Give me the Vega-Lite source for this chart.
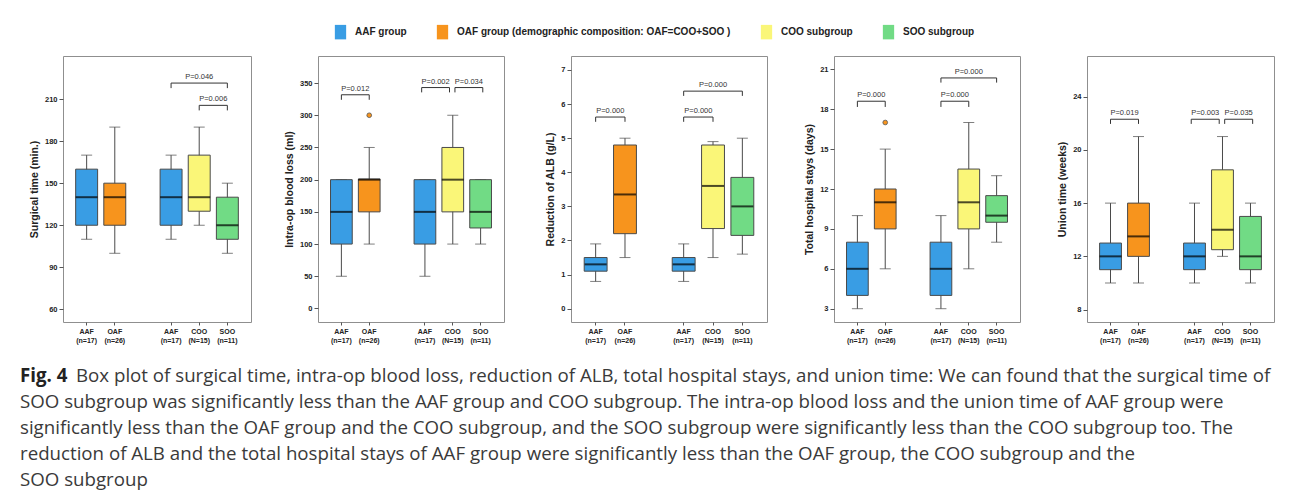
{
"$schema":"https://vega.github.io/schema/vega-lite/v6.json",
"background":"white",
"padding":{"left":20,"top":24,"right":5,"bottom":0},
"datasets":{
"boxes":[
{"panel":"st","cat":"AAF","group":"AAF group","min":110,"q1":120,"median":140,"q3":160,"max":170,"outlier":null},
{"panel":"st","cat":"OAF","group":"OAF group (demographic composition: OAF=COO+SOO )","min":100,"q1":120,"median":140,"q3":150,"max":190,"outlier":null},
{"panel":"st","cat":"AAF2","group":"AAF group","min":110,"q1":120,"median":140,"q3":160,"max":170,"outlier":null},
{"panel":"st","cat":"COO","group":"COO subgroup","min":120,"q1":130,"median":140,"q3":170,"max":190,"outlier":null},
{"panel":"st","cat":"SOO","group":"SOO subgroup","min":100,"q1":110,"median":120,"q3":140,"max":150,"outlier":null},
{"panel":"bl","cat":"AAF","group":"AAF group","min":50,"q1":100,"median":150,"q3":200,"max":200,"outlier":null},
{"panel":"bl","cat":"OAF","group":"OAF group (demographic composition: OAF=COO+SOO )","min":100,"q1":150,"median":200,"q3":201,"max":250,"outlier":300},
{"panel":"bl","cat":"AAF2","group":"AAF group","min":50,"q1":100,"median":150,"q3":200,"max":200,"outlier":null},
{"panel":"bl","cat":"COO","group":"COO subgroup","min":100,"q1":150,"median":200,"q3":250,"max":300,"outlier":null},
{"panel":"bl","cat":"SOO","group":"SOO subgroup","min":100,"q1":125,"median":150,"q3":200,"max":200,"outlier":null},
{"panel":"alb","cat":"AAF","group":"AAF group","min":0.8,"q1":1.1,"median":1.3,"q3":1.5,"max":1.9,"outlier":null},
{"panel":"alb","cat":"OAF","group":"OAF group (demographic composition: OAF=COO+SOO )","min":1.5,"q1":2.2,"median":3.35,"q3":4.8,"max":5.0,"outlier":null},
{"panel":"alb","cat":"AAF2","group":"AAF group","min":0.8,"q1":1.1,"median":1.3,"q3":1.5,"max":1.9,"outlier":null},
{"panel":"alb","cat":"COO","group":"COO subgroup","min":1.5,"q1":2.35,"median":3.6,"q3":4.8,"max":4.9,"outlier":null},
{"panel":"alb","cat":"SOO","group":"SOO subgroup","min":1.6,"q1":2.15,"median":3.0,"q3":3.85,"max":5.0,"outlier":null},
{"panel":"hs","cat":"AAF","group":"AAF group","min":3,"q1":4,"median":6,"q3":8,"max":10,"outlier":null},
{"panel":"hs","cat":"OAF","group":"OAF group (demographic composition: OAF=COO+SOO )","min":6,"q1":9,"median":11,"q3":12,"max":15,"outlier":17},
{"panel":"hs","cat":"AAF2","group":"AAF group","min":3,"q1":4,"median":6,"q3":8,"max":10,"outlier":null},
{"panel":"hs","cat":"COO","group":"COO subgroup","min":6,"q1":9,"median":11,"q3":13.5,"max":17,"outlier":null},
{"panel":"hs","cat":"SOO","group":"SOO subgroup","min":8,"q1":9.5,"median":10,"q3":11.5,"max":13,"outlier":null},
{"panel":"ut","cat":"AAF","group":"AAF group","min":10,"q1":11,"median":12,"q3":13,"max":16,"outlier":null},
{"panel":"ut","cat":"OAF","group":"OAF group (demographic composition: OAF=COO+SOO )","min":10,"q1":12,"median":13.5,"q3":16,"max":21,"outlier":null},
{"panel":"ut","cat":"AAF2","group":"AAF group","min":10,"q1":11,"median":12,"q3":13,"max":16,"outlier":null},
{"panel":"ut","cat":"COO","group":"COO subgroup","min":12,"q1":12.5,"median":14,"q3":18.5,"max":21,"outlier":null},
{"panel":"ut","cat":"SOO","group":"SOO subgroup","min":10,"q1":11,"median":12,"q3":15,"max":16,"outlier":null}
],
"brackets":[
{"panel":"st","g1":"AAF2","g2":"SOO","span":2,"side":"N","y":221.4,"leg":217.8,"label":"P=0.046"},
{"panel":"st","g1":"COO","g2":"SOO","span":1,"side":"N","y":205.5,"leg":201.9,"label":"P=0.006"},
{"panel":"bl","g1":"AAF","g2":"OAF","span":1,"side":"N","y":331.8,"leg":324,"label":"P=0.012"},
{"panel":"bl","g1":"AAF2","g2":"COO","span":1,"side":"L","y":343,"leg":335.5,"label":"P=0.002"},
{"panel":"bl","g1":"COO","g2":"SOO","span":1,"side":"R","y":343,"leg":335.5,"label":"P=0.034"},
{"panel":"alb","g1":"AAF","g2":"OAF","span":1,"side":"N","y":5.62,"leg":5.48,"label":"P=0.000"},
{"panel":"alb","g1":"AAF2","g2":"COO","span":1,"side":"N","y":5.62,"leg":5.48,"label":"P=0.000"},
{"panel":"alb","g1":"AAF2","g2":"SOO","span":2,"side":"N","y":6.38,"leg":6.24,"label":"P=0.000"},
{"panel":"hs","g1":"AAF","g2":"OAF","span":1,"side":"N","y":18.6,"leg":18.17,"label":"P=0.000"},
{"panel":"hs","g1":"AAF2","g2":"COO","span":1,"side":"N","y":18.6,"leg":18.17,"label":"P=0.000"},
{"panel":"hs","g1":"AAF2","g2":"SOO","span":2,"side":"N","y":20.35,"leg":20.0,"label":"P=0.000"},
{"panel":"ut","g1":"AAF","g2":"OAF","span":1,"side":"N","y":22.3,"leg":21.95,"label":"P=0.019"},
{"panel":"ut","g1":"AAF2","g2":"COO","span":1,"side":"L","y":22.3,"leg":21.95,"label":"P=0.003"},
{"panel":"ut","g1":"COO","g2":"SOO","span":1,"side":"R","y":22.3,"leg":21.95,"label":"P=0.035"}
],
"caption":[
{"line":1,"part":"fig","text":"Fig. 4"},
{"line":1,"part":"body","text":"Box plot of surgical time, intra-op blood loss, reduction of ALB, total hospital stays, and union time: We can found that the surgical time of"},
{"line":2,"part":"body","text":"SOO subgroup was significantly less than the AAF group and COO subgroup. The intra-op blood loss and the union time of AAF group were"},
{"line":3,"part":"body","text":"significantly less than the OAF group and the COO subgroup, and the SOO subgroup were significantly less than the COO subgroup too. The"},
{"line":4,"part":"body","text":"reduction of ALB and the total hospital stays of AAF group were significantly less than the OAF group, the COO subgroup and the"},
{"line":5,"part":"body","text":"SOO subgroup"}
]
},
"vconcat":[
{
"hconcat":[
{"width":188,"height":266,
"encoding":{"x":{"field":"cat","type":"nominal","title":null,"scale":{"domain":["AAF","OAF","gap","AAF2","COO","SOO"],"paddingInner":0.22,"paddingOuter":0.45},"axis":{"values":["AAF","OAF","AAF2","COO","SOO"],"labelExpr":"datum.value=='AAF'?['AAF','(n=17)']:datum.value=='OAF'?['OAF','(n=26)']:datum.value=='AAF2'?['AAF','(n=17)']:datum.value=='COO'?['COO','(N=15)']:['SOO','(n=11)']"}}},
"layer":[
{"data":{"name":"boxes"},"transform":[{"filter":"datum.panel=='st'"}],"mark":{"type":"rule","color":"#4a4a4a"},"encoding":{"y":{"field":"min","type":"quantitative","title":"Surgical time (min.)","scale":{"domain":[51,240.7],"nice":false,"zero":false},"axis":{"values":[60,90,120,150,180,210],"tickCount":12,"format":"d","labelOverlap":false}},"y2":{"field":"max"}}},
{"data":{"name":"boxes"},"transform":[{"filter":"datum.panel=='st'"}],"mark":{"type":"tick","color":"#4a4a4a","size":11,"thickness":1},"encoding":{"y":{"field":"min","type":"quantitative","title":"Surgical time (min.)"}}},
{"data":{"name":"boxes"},"transform":[{"filter":"datum.panel=='st'"}],"mark":{"type":"tick","color":"#4a4a4a","size":11,"thickness":1},"encoding":{"y":{"field":"max","type":"quantitative","title":"Surgical time (min.)"}}},
{"data":{"name":"boxes"},"transform":[{"filter":"datum.panel=='st'"}],"mark":{"type":"bar","stroke":"#4a4a4a","strokeWidth":1},"encoding":{"y":{"field":"q1","type":"quantitative","title":"Surgical time (min.)"},"y2":{"field":"q3"},"color":{"field":"group","type":"nominal","title":null,"scale":{"domain":["AAF group","OAF group (demographic composition: OAF=COO+SOO )","COO subgroup","SOO subgroup"],"range":["#399de4","#f7941d","#faf678","#71db85"]},"legend":{"orient":"none","legendX":270,"legendY":-31.5,"direction":"horizontal","columnPadding":28,"labelFontSize":10,"labelFontWeight":"bold","labelLimit":400,"labelColor":"#222222","symbolType":"M-0.78,-1L0.78,-1L0.78,1L-0.78,1Z","symbolSize":210,"symbolStrokeWidth":0,"labelOffset":7}}}},
{"data":{"name":"boxes"},"transform":[{"filter":"datum.panel=='st'"}],"mark":{"type":"tick","color":"#000000","size":22,"thickness":2},"encoding":{"y":{"field":"median","type":"quantitative","title":"Surgical time (min.)"}}},
{"data":{"name":"brackets"},"transform":[{"filter":"datum.panel=='st'"}],"mark":{"type":"rule","color":"#333333"},"encoding":{"x":{"field":"g1","type":"nominal","title":null,"bandPosition":0.5},"x2":{"field":"g2","bandPosition":0.5},"y":{"field":"y","type":"quantitative","title":"Surgical time (min.)"}}},
{"data":{"name":"brackets"},"transform":[{"filter":"datum.panel=='st'"}],"mark":{"type":"rule","color":"#333333"},"encoding":{"x":{"field":"g1","type":"nominal","title":null,"bandPosition":0.5},"y":{"field":"leg","type":"quantitative","title":"Surgical time (min.)"},"y2":{"field":"y"}}},
{"data":{"name":"brackets"},"transform":[{"filter":"datum.panel=='st'"}],"mark":{"type":"rule","color":"#333333"},"encoding":{"x":{"field":"g2","type":"nominal","title":null,"bandPosition":0.5},"y":{"field":"leg","type":"quantitative","title":"Surgical time (min.)"},"y2":{"field":"y"}}},
{"data":{"name":"brackets"},"transform":[{"filter":"datum.panel=='st' && datum.span==1"}],"mark":{"type":"text","fontSize":7.5,"color":"#333333","baseline":"bottom","dy":-2},"encoding":{"x":{"field":"g1","type":"nominal","title":null,"bandPosition":1.141},"y":{"field":"y","type":"quantitative","title":"Surgical time (min.)"},"text":{"field":"label"}}},
{"data":{"name":"brackets"},"transform":[{"filter":"datum.panel=='st' && datum.span==2"}],"mark":{"type":"text","fontSize":7.5,"color":"#333333","baseline":"bottom","dy":-2},"encoding":{"x":{"field":"g1","type":"nominal","title":null,"bandPosition":1.782},"y":{"field":"y","type":"quantitative","title":"Surgical time (min.)"},"text":{"field":"label"}}}
]},
{"width":186,"height":266,
"encoding":{"x":{"field":"cat","type":"nominal","title":null,"scale":{"domain":["AAF","OAF","gap","AAF2","COO","SOO"],"paddingInner":0.22,"paddingOuter":0.45},"axis":{"values":["AAF","OAF","AAF2","COO","SOO"],"labelExpr":"datum.value=='AAF'?['AAF','(n=17)']:datum.value=='OAF'?['OAF','(n=26)']:datum.value=='AAF2'?['AAF','(n=17)']:datum.value=='COO'?['COO','(N=15)']:['SOO','(n=11)']"}}},
"layer":[
{"data":{"name":"boxes"},"transform":[{"filter":"datum.panel=='bl'"}],"mark":{"type":"rule","color":"#4a4a4a"},"encoding":{"y":{"field":"min","type":"quantitative","title":"Intra-op blood loss (ml)","scale":{"domain":[-21,392],"nice":false,"zero":false},"axis":{"values":[0,50,100,150,200,250,300,350],"tickCount":12,"format":"d","labelOverlap":false}},"y2":{"field":"max"}}},
{"data":{"name":"boxes"},"transform":[{"filter":"datum.panel=='bl'"}],"mark":{"type":"tick","color":"#4a4a4a","size":11,"thickness":1},"encoding":{"y":{"field":"min","type":"quantitative","title":"Intra-op blood loss (ml)"}}},
{"data":{"name":"boxes"},"transform":[{"filter":"datum.panel=='bl'"}],"mark":{"type":"tick","color":"#4a4a4a","size":11,"thickness":1},"encoding":{"y":{"field":"max","type":"quantitative","title":"Intra-op blood loss (ml)"}}},
{"data":{"name":"boxes"},"transform":[{"filter":"datum.panel=='bl'"}],"mark":{"type":"bar","stroke":"#4a4a4a","strokeWidth":1},"encoding":{"y":{"field":"q1","type":"quantitative","title":"Intra-op blood loss (ml)"},"y2":{"field":"q3"},"color":{"field":"group","type":"nominal","title":null,"scale":{"domain":["AAF group","OAF group (demographic composition: OAF=COO+SOO )","COO subgroup","SOO subgroup"],"range":["#399de4","#f7941d","#faf678","#71db85"]},"legend":{"orient":"none","legendX":270,"legendY":-31.5,"direction":"horizontal","columnPadding":28,"labelFontSize":10,"labelFontWeight":"bold","labelLimit":400,"labelColor":"#222222","symbolType":"M-0.78,-1L0.78,-1L0.78,1L-0.78,1Z","symbolSize":210,"symbolStrokeWidth":0,"labelOffset":7}}}},
{"data":{"name":"boxes"},"transform":[{"filter":"datum.panel=='bl'"}],"mark":{"type":"tick","color":"#000000","size":22,"thickness":2},"encoding":{"y":{"field":"median","type":"quantitative","title":"Intra-op blood loss (ml)"}}},
{"data":{"name":"boxes"},"transform":[{"filter":"datum.panel=='bl' && isValid(datum.outlier)"}],"mark":{"type":"point","filled":true,"fill":"#f7941d","stroke":"#555555","strokeWidth":0.8,"size":22,"opacity":1},"encoding":{"y":{"field":"outlier","type":"quantitative","title":"Intra-op blood loss (ml)"}}},
{"data":{"name":"brackets"},"transform":[{"filter":"datum.panel=='bl' && datum.side=='N'"}],"mark":{"type":"rule","color":"#333333"},"encoding":{"x":{"field":"g1","type":"nominal","title":null,"bandPosition":0.5},"x2":{"field":"g2","bandPosition":0.5},"y":{"field":"y","type":"quantitative","title":"Intra-op blood loss (ml)"}}},
{"data":{"name":"brackets"},"transform":[{"filter":"datum.panel=='bl' && datum.side=='N'"}],"mark":{"type":"rule","color":"#333333"},"encoding":{"x":{"field":"g1","type":"nominal","title":null,"bandPosition":0.5},"y":{"field":"leg","type":"quantitative","title":"Intra-op blood loss (ml)"},"y2":{"field":"y"}}},
{"data":{"name":"brackets"},"transform":[{"filter":"datum.panel=='bl' && datum.side=='N'"}],"mark":{"type":"rule","color":"#333333"},"encoding":{"x":{"field":"g2","type":"nominal","title":null,"bandPosition":0.5},"y":{"field":"leg","type":"quantitative","title":"Intra-op blood loss (ml)"},"y2":{"field":"y"}}},
{"data":{"name":"brackets"},"transform":[{"filter":"datum.panel=='bl' && datum.side=='N'"}],"mark":{"type":"text","fontSize":7.5,"color":"#333333","baseline":"bottom","dy":-2},"encoding":{"x":{"field":"g1","type":"nominal","title":null,"bandPosition":1.141},"y":{"field":"y","type":"quantitative","title":"Intra-op blood loss (ml)"},"text":{"field":"label"}}},
{"data":{"name":"brackets"},"transform":[{"filter":"datum.panel=='bl' && datum.side=='L'"}],"mark":{"type":"rule","color":"#333333"},"encoding":{"x":{"field":"g1","type":"nominal","title":null,"bandPosition":0.35},"x2":{"field":"g2","bandPosition":0.35},"y":{"field":"y","type":"quantitative","title":"Intra-op blood loss (ml)"}}},
{"data":{"name":"brackets"},"transform":[{"filter":"datum.panel=='bl' && datum.side=='L'"}],"mark":{"type":"rule","color":"#333333"},"encoding":{"x":{"field":"g1","type":"nominal","title":null,"bandPosition":0.35},"y":{"field":"leg","type":"quantitative","title":"Intra-op blood loss (ml)"},"y2":{"field":"y"}}},
{"data":{"name":"brackets"},"transform":[{"filter":"datum.panel=='bl' && datum.side=='L'"}],"mark":{"type":"rule","color":"#333333"},"encoding":{"x":{"field":"g2","type":"nominal","title":null,"bandPosition":0.35},"y":{"field":"leg","type":"quantitative","title":"Intra-op blood loss (ml)"},"y2":{"field":"y"}}},
{"data":{"name":"brackets"},"transform":[{"filter":"datum.panel=='bl' && datum.side=='L'"}],"mark":{"type":"text","fontSize":7.5,"color":"#333333","baseline":"bottom","dy":-2},"encoding":{"x":{"field":"g1","type":"nominal","title":null,"bandPosition":0.991},"y":{"field":"y","type":"quantitative","title":"Intra-op blood loss (ml)"},"text":{"field":"label"}}},
{"data":{"name":"brackets"},"transform":[{"filter":"datum.panel=='bl' && datum.side=='R'"}],"mark":{"type":"rule","color":"#333333"},"encoding":{"x":{"field":"g1","type":"nominal","title":null,"bandPosition":0.6},"x2":{"field":"g2","bandPosition":0.6},"y":{"field":"y","type":"quantitative","title":"Intra-op blood loss (ml)"}}},
{"data":{"name":"brackets"},"transform":[{"filter":"datum.panel=='bl' && datum.side=='R'"}],"mark":{"type":"rule","color":"#333333"},"encoding":{"x":{"field":"g1","type":"nominal","title":null,"bandPosition":0.6},"y":{"field":"leg","type":"quantitative","title":"Intra-op blood loss (ml)"},"y2":{"field":"y"}}},
{"data":{"name":"brackets"},"transform":[{"filter":"datum.panel=='bl' && datum.side=='R'"}],"mark":{"type":"rule","color":"#333333"},"encoding":{"x":{"field":"g2","type":"nominal","title":null,"bandPosition":0.6},"y":{"field":"leg","type":"quantitative","title":"Intra-op blood loss (ml)"},"y2":{"field":"y"}}},
{"data":{"name":"brackets"},"transform":[{"filter":"datum.panel=='bl' && datum.side=='R'"}],"mark":{"type":"text","fontSize":7.5,"color":"#333333","baseline":"bottom","dy":-2},"encoding":{"x":{"field":"g1","type":"nominal","title":null,"bandPosition":1.241},"y":{"field":"y","type":"quantitative","title":"Intra-op blood loss (ml)"},"text":{"field":"label"}}}
]},
{"width":196,"height":266,
"encoding":{"x":{"field":"cat","type":"nominal","title":null,"scale":{"domain":["AAF","OAF","gap","AAF2","COO","SOO"],"paddingInner":0.22,"paddingOuter":0.45},"axis":{"values":["AAF","OAF","AAF2","COO","SOO"],"labelExpr":"datum.value=='AAF'?['AAF','(n=17)']:datum.value=='OAF'?['OAF','(n=26)']:datum.value=='AAF2'?['AAF','(n=17)']:datum.value=='COO'?['COO','(N=15)']:['SOO','(n=11)']"}}},
"layer":[
{"data":{"name":"boxes"},"transform":[{"filter":"datum.panel=='alb'"}],"mark":{"type":"rule","color":"#4a4a4a"},"encoding":{"y":{"field":"min","type":"quantitative","title":"Reduction of ALB (g/L)","scale":{"domain":[-0.39,7.41],"nice":false,"zero":false},"axis":{"values":[0,1,2,3,4,5,6,7],"tickCount":12,"format":"d","labelOverlap":false}},"y2":{"field":"max"}}},
{"data":{"name":"boxes"},"transform":[{"filter":"datum.panel=='alb'"}],"mark":{"type":"tick","color":"#4a4a4a","size":11,"thickness":1},"encoding":{"y":{"field":"min","type":"quantitative","title":"Reduction of ALB (g/L)"}}},
{"data":{"name":"boxes"},"transform":[{"filter":"datum.panel=='alb'"}],"mark":{"type":"tick","color":"#4a4a4a","size":11,"thickness":1},"encoding":{"y":{"field":"max","type":"quantitative","title":"Reduction of ALB (g/L)"}}},
{"data":{"name":"boxes"},"transform":[{"filter":"datum.panel=='alb'"}],"mark":{"type":"bar","stroke":"#4a4a4a","strokeWidth":1},"encoding":{"y":{"field":"q1","type":"quantitative","title":"Reduction of ALB (g/L)"},"y2":{"field":"q3"},"color":{"field":"group","type":"nominal","title":null,"scale":{"domain":["AAF group","OAF group (demographic composition: OAF=COO+SOO )","COO subgroup","SOO subgroup"],"range":["#399de4","#f7941d","#faf678","#71db85"]},"legend":{"orient":"none","legendX":270,"legendY":-31.5,"direction":"horizontal","columnPadding":28,"labelFontSize":10,"labelFontWeight":"bold","labelLimit":400,"labelColor":"#222222","symbolType":"M-0.78,-1L0.78,-1L0.78,1L-0.78,1Z","symbolSize":210,"symbolStrokeWidth":0,"labelOffset":7}}}},
{"data":{"name":"boxes"},"transform":[{"filter":"datum.panel=='alb'"}],"mark":{"type":"tick","color":"#000000","size":22,"thickness":2},"encoding":{"y":{"field":"median","type":"quantitative","title":"Reduction of ALB (g/L)"}}},
{"data":{"name":"brackets"},"transform":[{"filter":"datum.panel=='alb'"}],"mark":{"type":"rule","color":"#333333"},"encoding":{"x":{"field":"g1","type":"nominal","title":null,"bandPosition":0.5},"x2":{"field":"g2","bandPosition":0.5},"y":{"field":"y","type":"quantitative","title":"Reduction of ALB (g/L)"}}},
{"data":{"name":"brackets"},"transform":[{"filter":"datum.panel=='alb'"}],"mark":{"type":"rule","color":"#333333"},"encoding":{"x":{"field":"g1","type":"nominal","title":null,"bandPosition":0.5},"y":{"field":"leg","type":"quantitative","title":"Reduction of ALB (g/L)"},"y2":{"field":"y"}}},
{"data":{"name":"brackets"},"transform":[{"filter":"datum.panel=='alb'"}],"mark":{"type":"rule","color":"#333333"},"encoding":{"x":{"field":"g2","type":"nominal","title":null,"bandPosition":0.5},"y":{"field":"leg","type":"quantitative","title":"Reduction of ALB (g/L)"},"y2":{"field":"y"}}},
{"data":{"name":"brackets"},"transform":[{"filter":"datum.panel=='alb' && datum.span==1"}],"mark":{"type":"text","fontSize":7.5,"color":"#333333","baseline":"bottom","dy":-2},"encoding":{"x":{"field":"g1","type":"nominal","title":null,"bandPosition":1.141},"y":{"field":"y","type":"quantitative","title":"Reduction of ALB (g/L)"},"text":{"field":"label"}}},
{"data":{"name":"brackets"},"transform":[{"filter":"datum.panel=='alb' && datum.span==2"}],"mark":{"type":"text","fontSize":7.5,"color":"#333333","baseline":"bottom","dy":-2},"encoding":{"x":{"field":"g1","type":"nominal","title":null,"bandPosition":1.782},"y":{"field":"y","type":"quantitative","title":"Reduction of ALB (g/L)"},"text":{"field":"label"}}}
]},
{"width":186,"height":266,
"encoding":{"x":{"field":"cat","type":"nominal","title":null,"scale":{"domain":["AAF","OAF","gap","AAF2","COO","SOO"],"paddingInner":0.22,"paddingOuter":0.45},"axis":{"values":["AAF","OAF","AAF2","COO","SOO"],"labelExpr":"datum.value=='AAF'?['AAF','(n=17)']:datum.value=='OAF'?['OAF','(n=26)']:datum.value=='AAF2'?['AAF','(n=17)']:datum.value=='COO'?['COO','(N=15)']:['SOO','(n=11)']"}}},
"layer":[
{"data":{"name":"boxes"},"transform":[{"filter":"datum.panel=='hs'"}],"mark":{"type":"rule","color":"#4a4a4a"},"encoding":{"y":{"field":"min","type":"quantitative","title":"Total hospital stays (days)","scale":{"domain":[2,22],"nice":false,"zero":false},"axis":{"values":[3,6,9,12,15,18,21],"tickCount":12,"format":"d","labelOverlap":false}},"y2":{"field":"max"}}},
{"data":{"name":"boxes"},"transform":[{"filter":"datum.panel=='hs'"}],"mark":{"type":"tick","color":"#4a4a4a","size":11,"thickness":1},"encoding":{"y":{"field":"min","type":"quantitative","title":"Total hospital stays (days)"}}},
{"data":{"name":"boxes"},"transform":[{"filter":"datum.panel=='hs'"}],"mark":{"type":"tick","color":"#4a4a4a","size":11,"thickness":1},"encoding":{"y":{"field":"max","type":"quantitative","title":"Total hospital stays (days)"}}},
{"data":{"name":"boxes"},"transform":[{"filter":"datum.panel=='hs'"}],"mark":{"type":"bar","stroke":"#4a4a4a","strokeWidth":1},"encoding":{"y":{"field":"q1","type":"quantitative","title":"Total hospital stays (days)"},"y2":{"field":"q3"},"color":{"field":"group","type":"nominal","title":null,"scale":{"domain":["AAF group","OAF group (demographic composition: OAF=COO+SOO )","COO subgroup","SOO subgroup"],"range":["#399de4","#f7941d","#faf678","#71db85"]},"legend":{"orient":"none","legendX":270,"legendY":-31.5,"direction":"horizontal","columnPadding":28,"labelFontSize":10,"labelFontWeight":"bold","labelLimit":400,"labelColor":"#222222","symbolType":"M-0.78,-1L0.78,-1L0.78,1L-0.78,1Z","symbolSize":210,"symbolStrokeWidth":0,"labelOffset":7}}}},
{"data":{"name":"boxes"},"transform":[{"filter":"datum.panel=='hs'"}],"mark":{"type":"tick","color":"#000000","size":22,"thickness":2},"encoding":{"y":{"field":"median","type":"quantitative","title":"Total hospital stays (days)"}}},
{"data":{"name":"boxes"},"transform":[{"filter":"datum.panel=='hs' && isValid(datum.outlier)"}],"mark":{"type":"point","filled":true,"fill":"#f7941d","stroke":"#555555","strokeWidth":0.8,"size":22,"opacity":1},"encoding":{"y":{"field":"outlier","type":"quantitative","title":"Total hospital stays (days)"}}},
{"data":{"name":"brackets"},"transform":[{"filter":"datum.panel=='hs'"}],"mark":{"type":"rule","color":"#333333"},"encoding":{"x":{"field":"g1","type":"nominal","title":null,"bandPosition":0.5},"x2":{"field":"g2","bandPosition":0.5},"y":{"field":"y","type":"quantitative","title":"Total hospital stays (days)"}}},
{"data":{"name":"brackets"},"transform":[{"filter":"datum.panel=='hs'"}],"mark":{"type":"rule","color":"#333333"},"encoding":{"x":{"field":"g1","type":"nominal","title":null,"bandPosition":0.5},"y":{"field":"leg","type":"quantitative","title":"Total hospital stays (days)"},"y2":{"field":"y"}}},
{"data":{"name":"brackets"},"transform":[{"filter":"datum.panel=='hs'"}],"mark":{"type":"rule","color":"#333333"},"encoding":{"x":{"field":"g2","type":"nominal","title":null,"bandPosition":0.5},"y":{"field":"leg","type":"quantitative","title":"Total hospital stays (days)"},"y2":{"field":"y"}}},
{"data":{"name":"brackets"},"transform":[{"filter":"datum.panel=='hs' && datum.span==1"}],"mark":{"type":"text","fontSize":7.5,"color":"#333333","baseline":"bottom","dy":-2},"encoding":{"x":{"field":"g1","type":"nominal","title":null,"bandPosition":1.141},"y":{"field":"y","type":"quantitative","title":"Total hospital stays (days)"},"text":{"field":"label"}}},
{"data":{"name":"brackets"},"transform":[{"filter":"datum.panel=='hs' && datum.span==2"}],"mark":{"type":"text","fontSize":7.5,"color":"#333333","baseline":"bottom","dy":-2},"encoding":{"x":{"field":"g1","type":"nominal","title":null,"bandPosition":1.782},"y":{"field":"y","type":"quantitative","title":"Total hospital stays (days)"},"text":{"field":"label"}}}
]},
{"width":187,"height":266,
"encoding":{"x":{"field":"cat","type":"nominal","title":null,"scale":{"domain":["AAF","OAF","gap","AAF2","COO","SOO"],"paddingInner":0.22,"paddingOuter":0.45},"axis":{"values":["AAF","OAF","AAF2","COO","SOO"],"labelExpr":"datum.value=='AAF'?['AAF','(n=17)']:datum.value=='OAF'?['OAF','(n=26)']:datum.value=='AAF2'?['AAF','(n=17)']:datum.value=='COO'?['COO','(N=15)']:['SOO','(n=11)']"}}},
"layer":[
{"data":{"name":"boxes"},"transform":[{"filter":"datum.panel=='ut'"}],"mark":{"type":"rule","color":"#4a4a4a"},"encoding":{"y":{"field":"min","type":"quantitative","title":"Union time (weeks)","scale":{"domain":[7.07,27.05],"nice":false,"zero":false},"axis":{"values":[8,12,16,20,24],"tickCount":12,"format":"d","labelOverlap":false}},"y2":{"field":"max"}}},
{"data":{"name":"boxes"},"transform":[{"filter":"datum.panel=='ut'"}],"mark":{"type":"tick","color":"#4a4a4a","size":11,"thickness":1},"encoding":{"y":{"field":"min","type":"quantitative","title":"Union time (weeks)"}}},
{"data":{"name":"boxes"},"transform":[{"filter":"datum.panel=='ut'"}],"mark":{"type":"tick","color":"#4a4a4a","size":11,"thickness":1},"encoding":{"y":{"field":"max","type":"quantitative","title":"Union time (weeks)"}}},
{"data":{"name":"boxes"},"transform":[{"filter":"datum.panel=='ut'"}],"mark":{"type":"bar","stroke":"#4a4a4a","strokeWidth":1},"encoding":{"y":{"field":"q1","type":"quantitative","title":"Union time (weeks)"},"y2":{"field":"q3"},"color":{"field":"group","type":"nominal","title":null,"scale":{"domain":["AAF group","OAF group (demographic composition: OAF=COO+SOO )","COO subgroup","SOO subgroup"],"range":["#399de4","#f7941d","#faf678","#71db85"]},"legend":{"orient":"none","legendX":270,"legendY":-31.5,"direction":"horizontal","columnPadding":28,"labelFontSize":10,"labelFontWeight":"bold","labelLimit":400,"labelColor":"#222222","symbolType":"M-0.78,-1L0.78,-1L0.78,1L-0.78,1Z","symbolSize":210,"symbolStrokeWidth":0,"labelOffset":7}}}},
{"data":{"name":"boxes"},"transform":[{"filter":"datum.panel=='ut'"}],"mark":{"type":"tick","color":"#000000","size":22,"thickness":2},"encoding":{"y":{"field":"median","type":"quantitative","title":"Union time (weeks)"}}},
{"data":{"name":"brackets"},"transform":[{"filter":"datum.panel=='ut' && datum.side=='N'"}],"mark":{"type":"rule","color":"#333333"},"encoding":{"x":{"field":"g1","type":"nominal","title":null,"bandPosition":0.5},"x2":{"field":"g2","bandPosition":0.5},"y":{"field":"y","type":"quantitative","title":"Union time (weeks)"}}},
{"data":{"name":"brackets"},"transform":[{"filter":"datum.panel=='ut' && datum.side=='N'"}],"mark":{"type":"rule","color":"#333333"},"encoding":{"x":{"field":"g1","type":"nominal","title":null,"bandPosition":0.5},"y":{"field":"leg","type":"quantitative","title":"Union time (weeks)"},"y2":{"field":"y"}}},
{"data":{"name":"brackets"},"transform":[{"filter":"datum.panel=='ut' && datum.side=='N'"}],"mark":{"type":"rule","color":"#333333"},"encoding":{"x":{"field":"g2","type":"nominal","title":null,"bandPosition":0.5},"y":{"field":"leg","type":"quantitative","title":"Union time (weeks)"},"y2":{"field":"y"}}},
{"data":{"name":"brackets"},"transform":[{"filter":"datum.panel=='ut' && datum.side=='N'"}],"mark":{"type":"text","fontSize":7.5,"color":"#333333","baseline":"bottom","dy":-2},"encoding":{"x":{"field":"g1","type":"nominal","title":null,"bandPosition":1.141},"y":{"field":"y","type":"quantitative","title":"Union time (weeks)"},"text":{"field":"label"}}},
{"data":{"name":"brackets"},"transform":[{"filter":"datum.panel=='ut' && datum.side=='L'"}],"mark":{"type":"rule","color":"#333333"},"encoding":{"x":{"field":"g1","type":"nominal","title":null,"bandPosition":0.35},"x2":{"field":"g2","bandPosition":0.35},"y":{"field":"y","type":"quantitative","title":"Union time (weeks)"}}},
{"data":{"name":"brackets"},"transform":[{"filter":"datum.panel=='ut' && datum.side=='L'"}],"mark":{"type":"rule","color":"#333333"},"encoding":{"x":{"field":"g1","type":"nominal","title":null,"bandPosition":0.35},"y":{"field":"leg","type":"quantitative","title":"Union time (weeks)"},"y2":{"field":"y"}}},
{"data":{"name":"brackets"},"transform":[{"filter":"datum.panel=='ut' && datum.side=='L'"}],"mark":{"type":"rule","color":"#333333"},"encoding":{"x":{"field":"g2","type":"nominal","title":null,"bandPosition":0.35},"y":{"field":"leg","type":"quantitative","title":"Union time (weeks)"},"y2":{"field":"y"}}},
{"data":{"name":"brackets"},"transform":[{"filter":"datum.panel=='ut' && datum.side=='L'"}],"mark":{"type":"text","fontSize":7.5,"color":"#333333","baseline":"bottom","dy":-2},"encoding":{"x":{"field":"g1","type":"nominal","title":null,"bandPosition":0.991},"y":{"field":"y","type":"quantitative","title":"Union time (weeks)"},"text":{"field":"label"}}},
{"data":{"name":"brackets"},"transform":[{"filter":"datum.panel=='ut' && datum.side=='R'"}],"mark":{"type":"rule","color":"#333333"},"encoding":{"x":{"field":"g1","type":"nominal","title":null,"bandPosition":0.6},"x2":{"field":"g2","bandPosition":0.6},"y":{"field":"y","type":"quantitative","title":"Union time (weeks)"}}},
{"data":{"name":"brackets"},"transform":[{"filter":"datum.panel=='ut' && datum.side=='R'"}],"mark":{"type":"rule","color":"#333333"},"encoding":{"x":{"field":"g1","type":"nominal","title":null,"bandPosition":0.6},"y":{"field":"leg","type":"quantitative","title":"Union time (weeks)"},"y2":{"field":"y"}}},
{"data":{"name":"brackets"},"transform":[{"filter":"datum.panel=='ut' && datum.side=='R'"}],"mark":{"type":"rule","color":"#333333"},"encoding":{"x":{"field":"g2","type":"nominal","title":null,"bandPosition":0.6},"y":{"field":"leg","type":"quantitative","title":"Union time (weeks)"},"y2":{"field":"y"}}},
{"data":{"name":"brackets"},"transform":[{"filter":"datum.panel=='ut' && datum.side=='R'"}],"mark":{"type":"text","fontSize":7.5,"color":"#333333","baseline":"bottom","dy":-2},"encoding":{"x":{"field":"g1","type":"nominal","title":null,"bandPosition":1.241},"y":{"field":"y","type":"quantitative","title":"Union time (weeks)"},"text":{"field":"label"}}}
]}
],
"spacing":67,
"bounds":"flush",
"resolve":{"scale":{"x":"independent","y":"independent","color":"shared"},"legend":{"color":"shared"}}
},
{"width":1200,"height":130,
"view":{"stroke":null},
"data":{"name":"caption"},
"encoding":{"x":{"datum":0,"type":"quantitative","scale":{"domain":[0,1]},"axis":null},"y":{"field":"line","type":"ordinal","axis":null},"text":{"field":"text"}},
"layer":[
{"transform":[{"filter":"datum.part=='fig'"}],"mark":{"type":"text","align":"left","baseline":"middle","font":"Open Sans","fontSize":18.7,"fontWeight":"bold","color":"#222222","dx":-43}},
{"transform":[{"filter":"datum.part=='body' && datum.line==1"}],"mark":{"type":"text","align":"left","baseline":"middle","font":"Open Sans","fontSize":18.7,"color":"#3a3a3a","dx":13}},
{"transform":[{"filter":"datum.part=='body' && datum.line>1"}],"mark":{"type":"text","align":"left","baseline":"middle","font":"Open Sans","fontSize":18.7,"color":"#3a3a3a","dx":-43}}
]}
],
"spacing":19,
"resolve":{"scale":{"x":"independent","y":"independent"}},
"config":{
"font":"Liberation Sans",
"view":{"stroke":"#8f8f8f","strokeWidth":1},
"axis":{"grid":false,"domain":false,"labelColor":"#222222","titleColor":"#222222","tickColor":"#555555","labelFont":"Liberation Sans","titleFont":"Liberation Sans"},
"axisY":{"tickSize":4,"labelFontSize":7.5,"labelFontWeight":"bold","labelPadding":2,"titleFontSize":10.5,"titleFontWeight":"bold","titlePadding":5,"labelOverlap":false},
"axisX":{"tickSize":3,"labelFontSize":7,"labelFontWeight":"bold","labelPadding":2,"labelAngle":0,"labelLineHeight":9},
"text":{"font":"Liberation Sans"}
}
}
